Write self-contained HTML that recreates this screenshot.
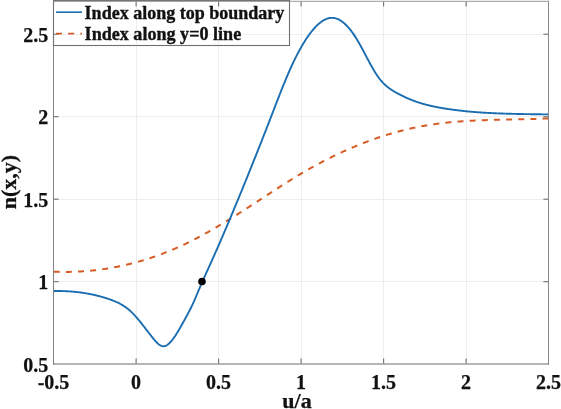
<!DOCTYPE html>
<html><head><meta charset="utf-8"><style>
html,body{margin:0;padding:0;background:#fff;width:561px;height:409px;overflow:hidden}
svg{display:block;will-change:transform}
text{font-family:"Liberation Serif",serif;font-weight:bold;fill:#111}
</style></head><body>
<svg width="561" height="409" viewBox="0 0 561 409">
<rect x="0" y="0" width="561" height="409" fill="#fff"/>
<g stroke="#eeeeee" stroke-width="1" shape-rendering="crispEdges">
<line x1="136.50" y1="2" x2="136.50" y2="363" />
<line x1="218.50" y1="2" x2="218.50" y2="363" />
<line x1="301.50" y1="2" x2="301.50" y2="363" />
<line x1="383.50" y1="2" x2="383.50" y2="363" />
<line x1="466.50" y1="2" x2="466.50" y2="363" />
<line x1="54" y1="281.50" x2="548" y2="281.50" />
<line x1="54" y1="199.50" x2="548" y2="199.50" />
<line x1="54" y1="116.50" x2="548" y2="116.50" />
<line x1="54" y1="34.50" x2="548" y2="34.50" />
</g>
<path d="M53.50,271.72 L54.50,271.75 L55.50,271.79 L56.50,271.82 L57.50,271.84 L58.50,271.87 L59.50,271.89 L60.50,271.90 L61.50,271.91 L62.50,271.92 L63.50,271.93 L64.50,271.93 L65.50,271.93 L66.50,271.92 L67.50,271.91 L68.50,271.90 L69.50,271.88 L70.50,271.86 L71.50,271.84 L72.50,271.81 L73.50,271.78 L74.50,271.74 L75.50,271.70 L76.50,271.66 L77.50,271.62 L78.50,271.57 L79.50,271.51 L80.50,271.46 L81.50,271.40 L82.50,271.33 L83.50,271.26 L84.50,271.19 L85.50,271.12 L86.50,271.04 L87.50,270.95 L88.50,270.87 L89.50,270.78 L90.50,270.68 L91.50,270.59 L92.50,270.48 L93.50,270.38 L94.50,270.27 L95.50,270.16 L96.50,270.04 L97.50,269.92 L98.50,269.79 L99.50,269.67 L100.50,269.53 L101.50,269.40 L102.50,269.26 L103.50,269.12 L104.50,268.97 L105.50,268.82 L106.50,268.66 L107.50,268.50 L108.50,268.34 L109.50,268.17 L110.50,268.00 L111.50,267.83 L112.50,267.65 L113.50,267.47 L114.50,267.28 L115.50,267.09 L116.50,266.90 L117.50,266.70 L118.50,266.50 L119.50,266.30 L120.50,266.09 L121.50,265.87 L122.50,265.66 L123.50,265.44 L124.50,265.21 L125.50,264.98 L126.50,264.75 L127.50,264.51 L128.50,264.27 L129.50,264.03 L130.50,263.78 L131.50,263.53 L132.50,263.27 L133.50,263.01 L134.50,262.74 L135.50,262.48 L136.50,262.20 L137.50,261.93 L138.50,261.65 L139.50,261.36 L140.50,261.07 L141.50,260.78 L142.50,260.48 L143.50,260.18 L144.50,259.88 L145.50,259.57 L146.50,259.25 L147.50,258.94 L148.50,258.62 L149.50,258.29 L150.50,257.96 L151.50,257.63 L152.50,257.29 L153.50,256.95 L154.50,256.60 L155.50,256.25 L156.50,255.90 L157.50,255.54 L158.50,255.18 L159.50,254.81 L160.50,254.44 L161.50,254.07 L162.50,253.69 L163.50,253.30 L164.50,252.92 L165.50,252.53 L166.50,252.13 L167.50,251.73 L168.50,251.33 L169.50,250.92 L170.50,250.51 L171.50,250.09 L172.50,249.67 L173.50,249.24 L174.50,248.81 L175.50,248.38 L176.50,247.94 L177.50,247.50 L178.50,247.06 L179.50,246.60 L180.50,246.15 L181.50,245.69 L182.50,245.23 L183.50,244.76 L184.50,244.29 L185.50,243.81 L186.50,243.33 L187.50,242.85 L188.50,242.36 L189.50,241.87 L190.50,241.37 L191.50,240.87 L192.50,240.36 L193.50,239.85 L194.50,239.34 L195.50,238.82 L196.50,238.30 L197.50,237.78 L198.50,237.25 L199.50,236.72 L200.50,236.18 L201.50,235.64 L202.50,235.10 L203.50,234.55 L204.50,234.00 L205.50,233.45 L206.50,232.89 L207.50,232.33 L208.50,231.77 L209.50,231.21 L210.50,230.64 L211.50,230.07 L212.50,229.49 L213.50,228.91 L214.50,228.33 L215.50,227.75 L216.50,227.16 L217.50,226.57 L218.50,225.98 L219.50,225.39 L220.50,224.79 L221.50,224.19 L222.50,223.59 L223.50,222.98 L224.50,222.38 L225.50,221.77 L226.50,221.16 L227.50,220.54 L228.50,219.93 L229.50,219.31 L230.50,218.69 L231.50,218.07 L232.50,217.45 L233.50,216.82 L234.50,216.19 L235.50,215.57 L236.50,214.93 L237.50,214.30 L238.50,213.67 L239.50,213.03 L240.50,212.40 L241.50,211.76 L242.50,211.12 L243.50,210.48 L244.50,209.83 L245.50,209.19 L246.50,208.54 L247.50,207.90 L248.50,207.25 L249.50,206.60 L250.50,205.95 L251.50,205.30 L252.50,204.65 L253.50,204.00 L254.50,203.35 L255.50,202.70 L256.50,202.04 L257.50,201.39 L258.50,200.73 L259.50,200.08 L260.50,199.43 L261.50,198.77 L262.50,198.12 L263.50,197.46 L264.50,196.81 L265.50,196.15 L266.50,195.50 L267.50,194.84 L268.50,194.19 L269.50,193.54 L270.50,192.89 L271.50,192.24 L272.50,191.59 L273.50,190.94 L274.50,190.29 L275.50,189.64 L276.50,188.99 L277.50,188.35 L278.50,187.70 L279.50,187.06 L280.50,186.42 L281.50,185.78 L282.50,185.14 L283.50,184.51 L284.50,183.87 L285.50,183.24 L286.50,182.61 L287.50,181.98 L288.50,181.35 L289.50,180.73 L290.50,180.11 L291.50,179.49 L292.50,178.87 L293.50,178.25 L294.50,177.64 L295.50,177.03 L296.50,176.42 L297.50,175.82 L298.50,175.22 L299.50,174.62 L300.50,174.02 L301.50,173.43 L302.50,172.84 L303.50,172.26 L304.50,171.67 L305.50,171.09 L306.50,170.52 L307.50,169.94 L308.50,169.37 L309.50,168.81 L310.50,168.24 L311.50,167.68 L312.50,167.12 L313.50,166.57 L314.50,166.02 L315.50,165.47 L316.50,164.93 L317.50,164.38 L318.50,163.85 L319.50,163.31 L320.50,162.78 L321.50,162.25 L322.50,161.72 L323.50,161.20 L324.50,160.68 L325.50,160.17 L326.50,159.66 L327.50,159.15 L328.50,158.64 L329.50,158.14 L330.50,157.64 L331.50,157.14 L332.50,156.65 L333.50,156.16 L334.50,155.67 L335.50,155.19 L336.50,154.71 L337.50,154.23 L338.50,153.76 L339.50,153.29 L340.50,152.82 L341.50,152.36 L342.50,151.90 L343.50,151.44 L344.50,150.99 L345.50,150.54 L346.50,150.09 L347.50,149.65 L348.50,149.21 L349.50,148.77 L350.50,148.34 L351.50,147.91 L352.50,147.48 L353.50,147.05 L354.50,146.63 L355.50,146.22 L356.50,145.80 L357.50,145.39 L358.50,144.99 L359.50,144.58 L360.50,144.18 L361.50,143.79 L362.50,143.39 L363.50,143.00 L364.50,142.62 L365.50,142.23 L366.50,141.85 L367.50,141.48 L368.50,141.10 L369.50,140.73 L370.50,140.37 L371.50,140.00 L372.50,139.64 L373.50,139.29 L374.50,138.93 L375.50,138.59 L376.50,138.24 L377.50,137.90 L378.50,137.56 L379.50,137.22 L380.50,136.89 L381.50,136.56 L382.50,136.24 L383.50,135.91 L384.50,135.60 L385.50,135.28 L386.50,134.97 L387.50,134.66 L388.50,134.36 L389.50,134.06 L390.50,133.76 L391.50,133.46 L392.50,133.17 L393.50,132.89 L394.50,132.60 L395.50,132.32 L396.50,132.05 L397.50,131.77 L398.50,131.50 L399.50,131.24 L400.50,130.97 L401.50,130.71 L402.50,130.46 L403.50,130.21 L404.50,129.96 L405.50,129.71 L406.50,129.47 L407.50,129.23 L408.50,129.00 L409.50,128.77 L410.50,128.54 L411.50,128.32 L412.50,128.10 L413.50,127.88 L414.50,127.67 L415.50,127.46 L416.50,127.25 L417.50,127.05 L418.50,126.85 L419.50,126.66 L420.50,126.46 L421.50,126.28 L422.50,126.09 L423.50,125.91 L424.50,125.73 L425.50,125.56 L426.50,125.39 L427.50,125.22 L428.50,125.06 L429.50,124.90 L430.50,124.74 L431.50,124.59 L432.50,124.44 L433.50,124.29 L434.50,124.15 L435.50,124.01 L436.50,123.87 L437.50,123.74 L438.50,123.61 L439.50,123.48 L440.50,123.36 L441.50,123.23 L442.50,123.12 L443.50,123.00 L444.50,122.89 L445.50,122.78 L446.50,122.67 L447.50,122.56 L448.50,122.46 L449.50,122.36 L450.50,122.26 L451.50,122.17 L452.50,122.07 L453.50,121.98 L454.50,121.90 L455.50,121.81 L456.50,121.73 L457.50,121.65 L458.50,121.57 L459.50,121.49 L460.50,121.42 L461.50,121.35 L462.50,121.28 L463.50,121.21 L464.50,121.14 L465.50,121.08 L466.50,121.02 L467.50,120.96 L468.50,120.90 L469.50,120.84 L470.50,120.79 L471.50,120.73 L472.50,120.68 L473.50,120.63 L474.50,120.58 L475.50,120.53 L476.50,120.49 L477.50,120.44 L478.50,120.40 L479.50,120.36 L480.50,120.32 L481.50,120.28 L482.50,120.24 L483.50,120.21 L484.50,120.17 L485.50,120.14 L486.50,120.10 L487.50,120.07 L488.50,120.04 L489.50,120.01 L490.50,119.98 L491.50,119.95 L492.50,119.92 L493.50,119.90 L494.50,119.87 L495.50,119.84 L496.50,119.82 L497.50,119.79 L498.50,119.77 L499.50,119.75 L500.50,119.72 L501.50,119.70 L502.50,119.68 L503.50,119.66 L504.50,119.64 L505.50,119.62 L506.50,119.59 L507.50,119.57 L508.50,119.55 L509.50,119.53 L510.50,119.51 L511.50,119.49 L512.50,119.47 L513.50,119.45 L514.50,119.43 L515.50,119.41 L516.50,119.39 L517.50,119.37 L518.50,119.34 L519.50,119.32 L520.50,119.30 L521.50,119.28 L522.50,119.25 L523.50,119.23 L524.50,119.21 L525.50,119.18 L526.50,119.16 L527.50,119.13 L528.50,119.10 L529.50,119.07 L530.50,119.05 L531.50,119.02 L532.50,118.99 L533.50,118.96 L534.50,118.92 L535.50,118.89 L536.50,118.86 L537.50,118.82 L538.50,118.79 L539.50,118.75 L540.50,118.71 L541.50,118.67 L542.50,118.63 L543.50,118.59 L544.50,118.55 L545.50,118.50 L546.50,118.45 L547.50,118.41 L548.50,118.36" fill="none" stroke="#d55c25" stroke-width="2" stroke-dasharray="6 6.16" stroke-dashoffset="-0.2"/>
<path d="M53.50,291.05 L54.00,291.04 L54.50,291.03 L55.00,291.02 L55.50,291.02 L56.00,291.01 L56.50,291.01 L57.00,291.01 L57.50,291.01 L58.00,291.01 L58.50,291.01 L59.00,291.02 L59.50,291.02 L60.00,291.03 L60.50,291.03 L61.00,291.04 L61.50,291.05 L62.00,291.07 L62.50,291.08 L63.00,291.09 L63.50,291.11 L64.00,291.13 L64.50,291.14 L65.00,291.16 L65.50,291.18 L66.00,291.21 L66.50,291.23 L67.00,291.26 L67.50,291.28 L68.00,291.31 L68.50,291.34 L69.00,291.37 L69.50,291.40 L70.00,291.44 L70.50,291.47 L71.00,291.51 L71.50,291.55 L72.00,291.59 L72.50,291.63 L73.00,291.67 L73.50,291.72 L74.00,291.76 L74.50,291.81 L75.00,291.86 L75.50,291.91 L76.00,291.96 L76.50,292.01 L77.00,292.07 L77.50,292.12 L78.00,292.18 L78.50,292.24 L79.00,292.30 L79.50,292.37 L80.00,292.43 L80.50,292.50 L81.00,292.56 L81.50,292.63 L82.00,292.70 L82.50,292.78 L83.00,292.85 L83.50,292.93 L84.00,293.00 L84.50,293.08 L85.00,293.16 L85.50,293.24 L86.00,293.33 L86.50,293.41 L87.00,293.50 L87.50,293.59 L88.00,293.68 L88.50,293.77 L89.00,293.87 L89.50,293.96 L90.00,294.06 L90.50,294.16 L91.00,294.26 L91.50,294.37 L92.00,294.47 L92.50,294.58 L93.00,294.69 L93.50,294.80 L94.00,294.91 L94.50,295.02 L95.00,295.14 L95.50,295.25 L96.00,295.37 L96.50,295.49 L97.00,295.62 L97.50,295.74 L98.00,295.87 L98.50,296.00 L99.00,296.13 L99.50,296.26 L100.00,296.39 L100.50,296.53 L101.00,296.67 L101.50,296.81 L102.00,296.95 L102.50,297.09 L103.00,297.24 L103.50,297.38 L104.00,297.53 L104.50,297.68 L105.00,297.84 L105.50,297.99 L106.00,298.15 L106.50,298.31 L107.00,298.47 L107.50,298.63 L108.00,298.80 L108.50,298.96 L109.00,299.13 L109.50,299.30 L110.00,299.48 L110.50,299.65 L111.00,299.83 L111.50,300.01 L112.00,300.20 L112.50,300.38 L113.00,300.57 L113.50,300.77 L114.00,300.97 L114.50,301.17 L115.00,301.38 L115.50,301.59 L116.00,301.80 L116.50,302.02 L117.00,302.25 L117.50,302.48 L118.00,302.72 L118.50,302.96 L119.00,303.21 L119.50,303.47 L120.00,303.73 L120.50,304.00 L121.00,304.28 L121.50,304.56 L122.00,304.85 L122.50,305.15 L123.00,305.46 L123.50,305.77 L124.00,306.10 L124.50,306.43 L125.00,306.77 L125.50,307.12 L126.00,307.48 L126.50,307.85 L127.00,308.22 L127.50,308.61 L128.00,309.01 L128.50,309.42 L129.00,309.84 L129.50,310.27 L130.00,310.71 L130.50,311.16 L131.00,311.63 L131.50,312.10 L132.00,312.59 L132.50,313.09 L133.00,313.60 L133.50,314.11 L134.00,314.64 L134.50,315.18 L135.00,315.72 L135.50,316.28 L136.00,316.84 L136.50,317.41 L137.00,317.99 L137.50,318.57 L138.00,319.16 L138.50,319.76 L139.00,320.36 L139.50,320.97 L140.00,321.58 L140.50,322.20 L141.00,322.83 L141.50,323.45 L142.00,324.08 L142.50,324.72 L143.00,325.36 L143.50,326.00 L144.00,326.64 L144.50,327.28 L145.00,327.93 L145.50,328.58 L146.00,329.22 L146.50,329.87 L147.00,330.52 L147.50,331.17 L148.00,331.82 L148.50,332.46 L149.00,333.11 L149.50,333.75 L150.00,334.40 L150.50,335.03 L151.00,335.67 L151.50,336.30 L152.00,336.93 L152.50,337.56 L153.00,338.18 L153.50,338.80 L154.00,339.40 L154.50,339.99 L155.00,340.57 L155.50,341.14 L156.00,341.68 L156.50,342.21 L157.00,342.71 L157.50,343.19 L158.00,343.65 L158.50,344.07 L159.00,344.46 L159.50,344.82 L160.00,345.15 L160.50,345.44 L161.00,345.69 L161.50,345.89 L162.00,346.06 L162.50,346.18 L163.00,346.24 L163.50,346.26 L164.00,346.23 L164.50,346.15 L165.00,346.03 L165.50,345.85 L166.00,345.64 L166.50,345.38 L167.00,345.08 L167.50,344.74 L168.00,344.37 L168.50,343.96 L169.00,343.52 L169.50,343.04 L170.00,342.54 L170.50,342.01 L171.00,341.45 L171.50,340.87 L172.00,340.26 L172.50,339.63 L173.00,338.98 L173.50,338.30 L174.00,337.61 L174.50,336.90 L175.00,336.16 L175.50,335.41 L176.00,334.65 L176.50,333.86 L177.00,333.07 L177.50,332.26 L178.00,331.43 L178.50,330.60 L179.00,329.75 L179.50,328.89 L180.00,328.02 L180.50,327.15 L181.00,326.27 L181.50,325.38 L182.00,324.48 L182.50,323.58 L183.00,322.68 L183.50,321.77 L184.00,320.86 L184.50,319.95 L185.00,319.04 L185.50,318.13 L186.00,317.22 L186.50,316.31 L187.00,315.39 L187.50,314.46 L188.00,313.53 L188.50,312.59 L189.00,311.64 L189.50,310.68 L190.00,309.70 L190.50,308.72 L191.00,307.71 L191.50,306.70 L192.00,305.66 L192.50,304.61 L193.00,303.53 L193.50,302.44 L194.00,301.32 L194.50,300.18 L195.00,299.02 L195.50,297.84 L196.00,296.65 L196.50,295.45 L197.00,294.25 L197.50,293.04 L198.00,291.84 L198.50,290.65 L199.00,289.47 L199.50,288.29 L200.00,287.12 L200.50,285.96 L201.00,284.81 L201.50,283.66 L202.00,282.52 L202.50,281.38 L203.00,280.25 L203.50,279.13 L204.00,278.01 L204.50,276.89 L205.00,275.77 L205.50,274.66 L206.00,273.56 L206.50,272.45 L207.00,271.35 L207.50,270.24 L208.00,269.14 L208.50,268.04 L209.00,266.94 L209.50,265.84 L210.00,264.74 L210.50,263.63 L211.00,262.53 L211.50,261.42 L212.00,260.31 L212.50,259.20 L213.00,258.09 L213.50,256.97 L214.00,255.85 L214.50,254.73 L215.00,253.60 L215.50,252.47 L216.00,251.34 L216.50,250.20 L217.00,249.07 L217.50,247.92 L218.00,246.78 L218.50,245.64 L219.00,244.49 L219.50,243.34 L220.00,242.18 L220.50,241.03 L221.00,239.87 L221.50,238.71 L222.00,237.55 L222.50,236.39 L223.00,235.22 L223.50,234.05 L224.00,232.88 L224.50,231.71 L225.00,230.54 L225.50,229.36 L226.00,228.18 L226.50,227.01 L227.00,225.83 L227.50,224.64 L228.00,223.46 L228.50,222.28 L229.00,221.09 L229.50,219.90 L230.00,218.72 L230.50,217.53 L231.00,216.34 L231.50,215.14 L232.00,213.95 L232.50,212.76 L233.00,211.56 L233.50,210.36 L234.00,209.17 L234.50,207.97 L235.00,206.77 L235.50,205.56 L236.00,204.36 L236.50,203.16 L237.00,201.95 L237.50,200.74 L238.00,199.54 L238.50,198.33 L239.00,197.12 L239.50,195.90 L240.00,194.69 L240.50,193.48 L241.00,192.26 L241.50,191.04 L242.00,189.82 L242.50,188.61 L243.00,187.38 L243.50,186.16 L244.00,184.94 L244.50,183.71 L245.00,182.49 L245.50,181.26 L246.00,180.03 L246.50,178.80 L247.00,177.57 L247.50,176.34 L248.00,175.11 L248.50,173.87 L249.00,172.64 L249.50,171.40 L250.00,170.16 L250.50,168.92 L251.00,167.68 L251.50,166.44 L252.00,165.19 L252.50,163.95 L253.00,162.70 L253.50,161.45 L254.00,160.20 L254.50,158.95 L255.00,157.70 L255.50,156.45 L256.00,155.19 L256.50,153.94 L257.00,152.68 L257.50,151.42 L258.00,150.16 L258.50,148.90 L259.00,147.64 L259.50,146.38 L260.00,145.11 L260.50,143.85 L261.00,142.58 L261.50,141.31 L262.00,140.04 L262.50,138.77 L263.00,137.50 L263.50,136.22 L264.00,134.95 L264.50,133.67 L265.00,132.39 L265.50,131.11 L266.00,129.83 L266.50,128.55 L267.00,127.27 L267.50,125.98 L268.00,124.70 L268.50,123.41 L269.00,122.12 L269.50,120.83 L270.00,119.54 L270.50,118.25 L271.00,116.95 L271.50,115.66 L272.00,114.36 L272.50,113.07 L273.00,111.77 L273.50,110.47 L274.00,109.18 L274.50,107.88 L275.00,106.58 L275.50,105.29 L276.00,104.00 L276.50,102.70 L277.00,101.41 L277.50,100.13 L278.00,98.84 L278.50,97.56 L279.00,96.28 L279.50,95.01 L280.00,93.74 L280.50,92.47 L281.00,91.21 L281.50,89.95 L282.00,88.70 L282.50,87.45 L283.00,86.21 L283.50,84.97 L284.00,83.74 L284.50,82.52 L285.00,81.30 L285.50,80.09 L286.00,78.89 L286.50,77.70 L287.00,76.51 L287.50,75.33 L288.00,74.16 L288.50,73.00 L289.00,71.85 L289.50,70.71 L290.00,69.58 L290.50,68.46 L291.00,67.35 L291.50,66.25 L292.00,65.16 L292.50,64.08 L293.00,63.01 L293.50,61.96 L294.00,60.91 L294.50,59.88 L295.00,58.86 L295.50,57.85 L296.00,56.85 L296.50,55.86 L297.00,54.89 L297.50,53.92 L298.00,52.97 L298.50,52.03 L299.00,51.10 L299.50,50.18 L300.00,49.27 L300.50,48.38 L301.00,47.49 L301.50,46.62 L302.00,45.76 L302.50,44.91 L303.00,44.08 L303.50,43.25 L304.00,42.44 L304.50,41.63 L305.00,40.84 L305.50,40.06 L306.00,39.30 L306.50,38.54 L307.00,37.80 L307.50,37.06 L308.00,36.34 L308.50,35.63 L309.00,34.94 L309.50,34.25 L310.00,33.58 L310.50,32.91 L311.00,32.26 L311.50,31.63 L312.00,31.00 L312.50,30.39 L313.00,29.79 L313.50,29.20 L314.00,28.62 L314.50,28.06 L315.00,27.51 L315.50,26.98 L316.00,26.46 L316.50,25.95 L317.00,25.45 L317.50,24.97 L318.00,24.51 L318.50,24.05 L319.00,23.62 L319.50,23.19 L320.00,22.79 L320.50,22.39 L321.00,22.02 L321.50,21.65 L322.00,21.31 L322.50,20.97 L323.00,20.66 L323.50,20.36 L324.00,20.07 L324.50,19.81 L325.00,19.55 L325.50,19.32 L326.00,19.10 L326.50,18.90 L327.00,18.71 L327.50,18.55 L328.00,18.40 L328.50,18.26 L329.00,18.15 L329.50,18.05 L330.00,17.97 L330.50,17.91 L331.00,17.87 L331.50,17.84 L332.00,17.84 L332.50,17.85 L333.00,17.88 L333.50,17.93 L334.00,18.00 L334.50,18.08 L335.00,18.19 L335.50,18.31 L336.00,18.45 L336.50,18.61 L337.00,18.79 L337.50,18.99 L338.00,19.20 L338.50,19.43 L339.00,19.68 L339.50,19.95 L340.00,20.23 L340.50,20.53 L341.00,20.85 L341.50,21.18 L342.00,21.54 L342.50,21.90 L343.00,22.29 L343.50,22.69 L344.00,23.11 L344.50,23.55 L345.00,24.00 L345.50,24.47 L346.00,24.96 L346.50,25.46 L347.00,25.98 L347.50,26.51 L348.00,27.06 L348.50,27.62 L349.00,28.20 L349.50,28.80 L350.00,29.41 L350.50,30.04 L351.00,30.68 L351.50,31.34 L352.00,32.01 L352.50,32.70 L353.00,33.41 L353.50,34.12 L354.00,34.86 L354.50,35.60 L355.00,36.37 L355.50,37.14 L356.00,37.93 L356.50,38.74 L357.00,39.56 L357.50,40.39 L358.00,41.24 L358.50,42.10 L359.00,42.97 L359.50,43.85 L360.00,44.74 L360.50,45.64 L361.00,46.55 L361.50,47.47 L362.00,48.40 L362.50,49.33 L363.00,50.26 L363.50,51.20 L364.00,52.14 L364.50,53.09 L365.00,54.04 L365.50,54.99 L366.00,55.94 L366.50,56.88 L367.00,57.83 L367.50,58.78 L368.00,59.72 L368.50,60.66 L369.00,61.59 L369.50,62.52 L370.00,63.45 L370.50,64.36 L371.00,65.27 L371.50,66.17 L372.00,67.06 L372.50,67.94 L373.00,68.81 L373.50,69.67 L374.00,70.51 L374.50,71.34 L375.00,72.16 L375.50,72.96 L376.00,73.75 L376.50,74.52 L377.00,75.27 L377.50,76.01 L378.00,76.72 L378.50,77.42 L379.00,78.09 L379.50,78.75 L380.00,79.38 L380.50,80.00 L381.00,80.60 L381.50,81.18 L382.00,81.74 L382.50,82.29 L383.00,82.82 L383.50,83.33 L384.00,83.83 L384.50,84.31 L385.00,84.78 L385.50,85.24 L386.00,85.68 L386.50,86.11 L387.00,86.53 L387.50,86.93 L388.00,87.33 L388.50,87.71 L389.00,88.08 L389.50,88.45 L390.00,88.80 L390.50,89.15 L391.00,89.48 L391.50,89.81 L392.00,90.14 L392.50,90.45 L393.00,90.76 L393.50,91.07 L394.00,91.37 L394.50,91.66 L395.00,91.95 L395.50,92.24 L396.00,92.52 L396.50,92.81 L397.00,93.08 L397.50,93.36 L398.00,93.63 L398.50,93.90 L399.00,94.17 L399.50,94.43 L400.00,94.69 L400.50,94.95 L401.00,95.20 L401.50,95.46 L402.00,95.71 L402.50,95.95 L403.00,96.20 L403.50,96.44 L404.00,96.68 L404.50,96.91 L405.00,97.14 L405.50,97.37 L406.00,97.60 L406.50,97.83 L407.00,98.05 L407.50,98.27 L408.00,98.48 L408.50,98.70 L409.00,98.91 L409.50,99.12 L410.00,99.32 L410.50,99.53 L411.00,99.73 L411.50,99.93 L412.00,100.12 L412.50,100.32 L413.00,100.51 L413.50,100.70 L414.00,100.88 L414.50,101.07 L415.00,101.25 L415.50,101.43 L416.00,101.60 L416.50,101.78 L417.00,101.95 L417.50,102.12 L418.00,102.28 L418.50,102.45 L419.00,102.61 L419.50,102.77 L420.00,102.93 L420.50,103.08 L421.00,103.24 L421.50,103.39 L422.00,103.54 L422.50,103.68 L423.00,103.83 L423.50,103.97 L424.00,104.11 L424.50,104.25 L425.00,104.39 L425.50,104.52 L426.00,104.65 L426.50,104.79 L427.00,104.91 L427.50,105.04 L428.00,105.17 L428.50,105.29 L429.00,105.41 L429.50,105.53 L430.00,105.65 L430.50,105.77 L431.00,105.89 L431.50,106.00 L432.00,106.11 L432.50,106.22 L433.00,106.33 L433.50,106.44 L434.00,106.55 L434.50,106.65 L435.00,106.75 L435.50,106.85 L436.00,106.95 L436.50,107.05 L437.00,107.15 L437.50,107.25 L438.00,107.34 L438.50,107.44 L439.00,107.53 L439.50,107.62 L440.00,107.71 L440.50,107.80 L441.00,107.89 L441.50,107.97 L442.00,108.06 L442.50,108.15 L443.00,108.23 L443.50,108.31 L444.00,108.39 L444.50,108.47 L445.00,108.55 L445.50,108.63 L446.00,108.71 L446.50,108.79 L447.00,108.86 L447.50,108.94 L448.00,109.02 L448.50,109.09 L449.00,109.16 L449.50,109.24 L450.00,109.31 L450.50,109.38 L451.00,109.45 L451.50,109.52 L452.00,109.59 L452.50,109.66 L453.00,109.72 L453.50,109.79 L454.00,109.86 L454.50,109.92 L455.00,109.99 L455.50,110.05 L456.00,110.11 L456.50,110.18 L457.00,110.24 L457.50,110.30 L458.00,110.36 L458.50,110.42 L459.00,110.48 L459.50,110.54 L460.00,110.60 L460.50,110.65 L461.00,110.71 L461.50,110.77 L462.00,110.82 L462.50,110.87 L463.00,110.93 L463.50,110.98 L464.00,111.04 L464.50,111.09 L465.00,111.14 L465.50,111.19 L466.00,111.24 L466.50,111.29 L467.00,111.34 L467.50,111.39 L468.00,111.44 L468.50,111.48 L469.00,111.53 L469.50,111.58 L470.00,111.62 L470.50,111.67 L471.00,111.71 L471.50,111.75 L472.00,111.80 L472.50,111.84 L473.00,111.88 L473.50,111.92 L474.00,111.97 L474.50,112.01 L475.00,112.05 L475.50,112.09 L476.00,112.12 L476.50,112.16 L477.00,112.20 L477.50,112.24 L478.00,112.28 L478.50,112.31 L479.00,112.35 L479.50,112.38 L480.00,112.42 L480.50,112.45 L481.00,112.49 L481.50,112.52 L482.00,112.55 L482.50,112.59 L483.00,112.62 L483.50,112.65 L484.00,112.68 L484.50,112.71 L485.00,112.74 L485.50,112.77 L486.00,112.80 L486.50,112.83 L487.00,112.86 L487.50,112.89 L488.00,112.91 L488.50,112.94 L489.00,112.97 L489.50,113.00 L490.00,113.02 L490.50,113.05 L491.00,113.07 L491.50,113.10 L492.00,113.12 L492.50,113.15 L493.00,113.17 L493.50,113.19 L494.00,113.22 L494.50,113.24 L495.00,113.26 L495.50,113.28 L496.00,113.30 L496.50,113.33 L497.00,113.35 L497.50,113.37 L498.00,113.39 L498.50,113.41 L499.00,113.43 L499.50,113.45 L500.00,113.46 L500.50,113.48 L501.00,113.50 L501.50,113.52 L502.00,113.54 L502.50,113.55 L503.00,113.57 L503.50,113.59 L504.00,113.60 L504.50,113.62 L505.00,113.64 L505.50,113.65 L506.00,113.67 L506.50,113.68 L507.00,113.70 L507.50,113.71 L508.00,113.73 L508.50,113.74 L509.00,113.75 L509.50,113.77 L510.00,113.78 L510.50,113.79 L511.00,113.81 L511.50,113.82 L512.00,113.83 L512.50,113.84 L513.00,113.86 L513.50,113.87 L514.00,113.88 L514.50,113.89 L515.00,113.90 L515.50,113.91 L516.00,113.92 L516.50,113.94 L517.00,113.95 L517.50,113.96 L518.00,113.97 L518.50,113.98 L519.00,113.99 L519.50,114.00 L520.00,114.01 L520.50,114.02 L521.00,114.02 L521.50,114.03 L522.00,114.04 L522.50,114.05 L523.00,114.06 L523.50,114.07 L524.00,114.08 L524.50,114.09 L525.00,114.09 L525.50,114.10 L526.00,114.11 L526.50,114.12 L527.00,114.13 L527.50,114.13 L528.00,114.14 L528.50,114.15 L529.00,114.16 L529.50,114.16 L530.00,114.17 L530.50,114.18 L531.00,114.19 L531.50,114.19 L532.00,114.20 L532.50,114.21 L533.00,114.22 L533.50,114.22 L534.00,114.23 L534.50,114.24 L535.00,114.24 L535.50,114.25 L536.00,114.26 L536.50,114.26 L537.00,114.27 L537.50,114.28 L538.00,114.29 L538.50,114.29 L539.00,114.30 L539.50,114.31 L540.00,114.31 L540.50,114.32 L541.00,114.33 L541.50,114.33 L542.00,114.34 L542.50,114.35 L543.00,114.36 L543.50,114.36 L544.00,114.37 L544.50,114.38 L545.00,114.39 L545.50,114.39 L546.00,114.40 L546.50,114.41 L547.00,114.42 L547.50,114.42 L548.00,114.43 L548.50,114.44" fill="none" stroke="#1a6db0" stroke-width="1.9" stroke-linejoin="round"/>
<circle cx="202" cy="281.5" r="3.8" fill="#000"/>
<g stroke="#707070" stroke-width="1.1">
<line x1="136.10" y1="363.5" x2="136.10" y2="358.6" />
<line x1="136.10" y1="1.5" x2="136.10" y2="6.5" />
<line x1="218.60" y1="363.5" x2="218.60" y2="358.6" />
<line x1="218.60" y1="1.5" x2="218.60" y2="6.5" />
<line x1="301.10" y1="363.5" x2="301.10" y2="358.6" />
<line x1="301.10" y1="1.5" x2="301.10" y2="6.5" />
<line x1="383.60" y1="363.5" x2="383.60" y2="358.6" />
<line x1="383.60" y1="1.5" x2="383.60" y2="6.5" />
<line x1="466.10" y1="363.5" x2="466.10" y2="358.6" />
<line x1="466.10" y1="1.5" x2="466.10" y2="6.5" />
<line x1="53.5" y1="281.70" x2="58.6" y2="281.70" />
<line x1="548.5" y1="281.70" x2="543.4" y2="281.70" />
<line x1="53.5" y1="199.20" x2="58.6" y2="199.20" />
<line x1="548.5" y1="199.20" x2="543.4" y2="199.20" />
<line x1="53.5" y1="116.70" x2="58.6" y2="116.70" />
<line x1="548.5" y1="116.70" x2="543.4" y2="116.70" />
<line x1="53.5" y1="34.20" x2="58.6" y2="34.20" />
<line x1="548.5" y1="34.20" x2="543.4" y2="34.20" />
</g>
<g fill="none" stroke-width="1">
<line x1="53.5" y1="0.8" x2="53.5" y2="364.5" stroke="#808080"/>
<line x1="548.5" y1="0.8" x2="548.5" y2="364.5" stroke="#888"/>
<line x1="53" y1="1.3" x2="549" y2="1.3" stroke="#999"/>
<line x1="53" y1="364" x2="549" y2="364" stroke="#6a6a6a"/>
</g>
<rect x="53.5" y="0.6" width="236" height="44.9" fill="none" stroke="#707070" stroke-width="1.1"/>
<line x1="56" y1="12.2" x2="82" y2="12.2" stroke="#1a6db0" stroke-width="1.6"/>
<line x1="56" y1="33.7" x2="82" y2="33.7" stroke="#d55c25" stroke-width="1.7" stroke-dasharray="6 6.16"/>
<g font-size="18" style="stroke:#111;stroke-width:0.35px">
<text x="84.6" y="18.5" textLength="199.8" lengthAdjust="spacingAndGlyphs">Index along top boundary</text>
<text x="84.6" y="39.6" textLength="156.6" lengthAdjust="spacingAndGlyphs">Index along y=0 line</text>
</g>
<g font-size="20" style="stroke:#111;stroke-width:0.25px">
<text x="48.2" y="371.8" text-anchor="end">0.5</text>
<text x="48.2" y="289.3" text-anchor="end">1</text>
<text x="48.2" y="206.8" text-anchor="end">1.5</text>
<text x="48.2" y="124.3" text-anchor="end">2</text>
<text x="48.2" y="41.8" text-anchor="end">2.5</text>
<text x="53.5" y="389.3" text-anchor="middle">-0.5</text>
<text x="136.0" y="389.3" text-anchor="middle">0</text>
<text x="218.5" y="389.3" text-anchor="middle">0.5</text>
<text x="301.0" y="389.3" text-anchor="middle">1</text>
<text x="383.5" y="389.3" text-anchor="middle">1.5</text>
<text x="466.0" y="389.3" text-anchor="middle">2</text>
<text x="548.5" y="389.3" text-anchor="middle">2.5</text>
</g>
<g font-size="22" style="stroke:#111;stroke-width:0.25px">
<text x="297" y="407.8" text-anchor="middle">u/a</text>
<text transform="translate(16,182) rotate(-90)" text-anchor="middle">n(x,y)</text>
</g>
</svg>
</body></html>
